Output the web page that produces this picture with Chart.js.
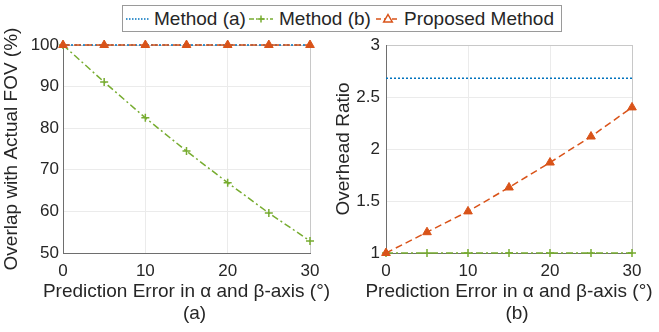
<!DOCTYPE html>
<html>
<head>
<meta charset="utf-8">
<script src="https://cdn.jsdelivr.net/npm/chart.js@4/dist/chart.umd.min.js"></script>
<style>
  body { margin: 0; background: #fff; }
  #wrap { position: relative; width: 659px; height: 332px; overflow: hidden; background: #fff; }
  #wrap canvas { position: absolute; left: 0; top: 0; }
  #legend {
    position: absolute; left: 122px; top: 5px; width: 438px; height: 25px;
    border: 1px solid #9a9a9a; background: #fff;
    font-family: "Liberation Sans", Arial, sans-serif; font-size: 19px; color: #262626;
  }
  #legend span { position: absolute; top: 2px; white-space: nowrap; }
  #legend svg { position: absolute; top: 4px; }
</style>
</head>
<body>
<div id="wrap">
  <canvas id="chart1" width="659" height="342"></canvas>
  <canvas id="chart2" width="659" height="342"></canvas>
  <div id="legend"></div>
</div>
<script>
// data
const errorSteps = [0, 5, 10, 15, 20, 25, 30];
const seriesNames = ['Method (a)', 'Method (b)', 'Proposed Method'];

const overlapMethodA = [100, 100, 100, 100, 100, 100, 100];
const overlapMethodB = [100, 91.1, 82.5, 74.5, 66.9, 59.6, 52.9];
const overlapProposed = [100, 100, 100, 100, 100, 100, 100];

const overheadMethodA = [2.68, 2.68, 2.68, 2.68, 2.68, 2.68, 2.68];
const overheadMethodB = [1, 1, 1, 1, 1, 1, 1];
const overheadProposed = [1.0, 1.2, 1.4, 1.63, 1.87, 2.12, 2.4];

const xAxisTitle = 'Prediction Error in α and β-axis (°)';

// matlab default colours
const blue = 'rgb(0, 114, 189)';
const orange = 'rgb(217, 83, 25)';
const green = 'rgb(119, 172, 48)';
const textColor = '#262626';
const fontFamily = '"Liberation Sans", Arial, sans-serif';

const toPoints = (vals) => vals.map((v, i) => ({x: errorSteps[i], y: v}));

const makeDatasets = (a, b, p) => [
    {
        label: seriesNames[0], data: toPoints(a),
        borderColor: blue, borderWidth: 1.5, borderDash: [2, 2],
        pointRadius: 0, order: 2, clip: false
    },
    {
        label: seriesNames[1], data: toPoints(b),
        borderColor: green, borderWidth: 1.5, borderDash: [7, 3, 2, 3],
        pointStyle: 'cross', pointRadius: 4, pointBorderWidth: 1.5,
        pointBorderColor: green, order: 1, clip: false
    },
    {
        label: seriesNames[2], data: toPoints(p),
        borderColor: orange, borderWidth: 1.5, borderDash: [7, 4],
        pointStyle: 'triangle', pointRadius: 5, pointBorderWidth: 1,
        pointBorderColor: orange, pointBackgroundColor: orange, order: 0, clip: false
    }
];

// the x title is wider than the plot, and the built-in title squeezes it to fit,
// so draw it (and the (a)/(b) caption) ourselves under the axis
const bottomTitles = {
    id: 'bottomTitles',
    afterDraw(chart, args, opts) {
        const {ctx, chartArea} = chart;
        const cx = (chartArea.left + chartArea.right) / 2;
        ctx.save();
        ctx.fillStyle = textColor;
        ctx.textAlign = 'center';
        ctx.textBaseline = 'middle';
        ctx.font = '19px ' + fontFamily;
        ctx.fillText(opts.title, cx, chartArea.bottom + 39);
        ctx.fillText(opts.caption, cx + 8, chartArea.bottom + 61);
        ctx.restore();
    }
};

const makeOptions = (cfg) => ({
    responsive: false,
    animation: false,
    layout: { padding: { left: cfg.padLeft, right: cfg.padRight, top: 45, bottom: 0 } },
    plugins: {
        legend: { display: false },
        tooltip: { enabled: false },
        bottomTitles: { title: xAxisTitle, caption: cfg.subLabel }
    },
    scales: {
        x: {
            type: 'linear', min: 0, max: 30,
            afterFit: (scale) => { scale.height = 89; },
            ticks: { stepSize: 10, padding: 8, color: textColor, font: { family: fontFamily, size: 17 } },
            grid: {
                drawTicks: false,
                color: (c) => c.tick && c.tick.value === 30 ? '#c8c8c8' : '#ebebeb'
            },
            border: { color: '#6e6e6e', width: 1 }
        },
        y: {
            min: cfg.yMin, max: cfg.yMax,
            afterFit: (scale) => { scale.width = cfg.yWidth; },
            ticks: {
                stepSize: cfg.yStep, padding: cfg.yTickPad, color: textColor,
                font: { family: fontFamily, size: 17 },
                callback: (v) => String(v)
            },
            grid: {
                drawTicks: false,
                color: (c) => c.tick && c.tick.value === cfg.yMax ? '#c8c8c8' : '#ebebeb'
            },
            border: { color: '#6e6e6e', width: 1 },
            title: {
                display: true, text: cfg.yTitle, color: textColor,
                font: { family: fontFamily, size: 19 },
                padding: { top: cfg.yTitlePad, bottom: 0 }
            }
        }
    }
});

// viz (a)
new Chart(document.getElementById('chart1'), {
    type: 'line',
    data: { datasets: makeDatasets(overlapMethodA, overlapMethodB, overlapProposed) },
    options: makeOptions({
        yMin: 50, yMax: 100, yStep: 10, yTitle: 'Overlap with Actual FOV (%)',
        subLabel: '(a)', padLeft: 0, padRight: 349, yWidth: 63, yTickPad: 4, yTitlePad: 0
    }),
    plugins: [bottomTitles]
});

// viz (b)
new Chart(document.getElementById('chart2'), {
    type: 'line',
    data: { datasets: makeDatasets(overheadMethodA, overheadMethodB, overheadProposed) },
    options: makeOptions({
        yMin: 1, yMax: 3, yStep: 0.5, yTitle: 'Overhead Ratio',
        subLabel: '(b)', padLeft: 330, padRight: 27, yWidth: 56, yTickPad: 6, yTitlePad: 2
    }),
    plugins: [bottomTitles]
});

// shared legend above both plots
const legendItems = [
    { name: seriesNames[0], color: blue, dash: '1.5 1.5', marker: null, swatchX: 3, textX: 31 },
    { name: seriesNames[1], color: green, dash: '5 2 1.5 2', marker: 'plus', swatchX: 126, textX: 156 },
    { name: seriesNames[2], color: orange, dash: '5 3', marker: 'tri', swatchX: 253, textX: 281 }
];
const legend = document.getElementById('legend');
legendItems.forEach((it) => {
    const w = 24;
    let mk = '';
    if (it.marker === 'plus') {
        mk = `<line x1="${w/2-3.5}" y1="9" x2="${w/2+3.5}" y2="9" stroke="${it.color}" stroke-width="1.5"/>` +
             `<line x1="${w/2}" y1="5.5" x2="${w/2}" y2="12.5" stroke="${it.color}" stroke-width="1.5"/>`;
    } else if (it.marker === 'tri') {
        mk = `<polygon points="${w/2},4.5 ${w/2+4.3},12 ${w/2-4.3},12" fill="#fff" stroke="${it.color}" stroke-width="1.5"/>`;
    }
    legend.insertAdjacentHTML('beforeend',
        `<svg width="${w}" height="18" style="left:${it.swatchX}px">` +
        `<line x1="0" y1="9" x2="${w}" y2="9" stroke="${it.color}" stroke-width="1.5" stroke-dasharray="${it.dash}"/>${mk}</svg>` +
        `<span style="left:${it.textX}px">${it.name}</span>`);
});
</script>
</body>
</html>
